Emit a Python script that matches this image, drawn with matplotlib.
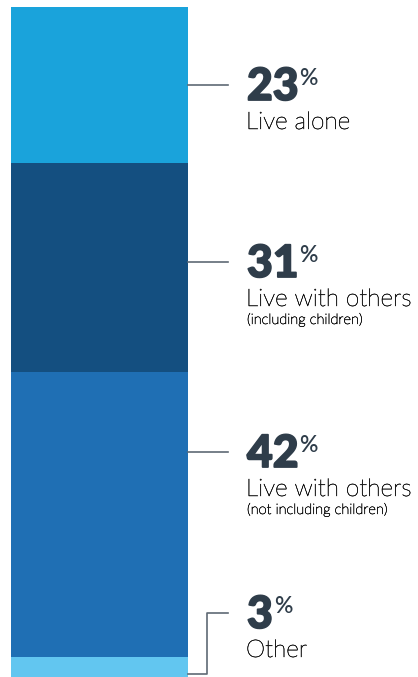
import matplotlib
matplotlib.use("Agg")
import matplotlib.pyplot as plt
from matplotlib.lines import Line2D
import matplotlib.patheffects as pe

# Household composition shares (percent), stacked top to bottom
shares = [23, 31, 42, 3]
labels = ["Live alone", "Live with others", "Live with others", "Other"]
notes = ["", "(including children)", "(not including children)", ""]
colors = ["#1aa3db", "#144f80", "#1f6fb4", "#62c6f0"]

W, H = 418, 677
fig = plt.figure(figsize=(W / 100, H / 100), dpi=100)
fig.patch.set_facecolor("white")

# Bar axes in pixel layout (left, top, right, bottom)
bx0, by0, bx1, by1 = 11, 7, 188, 677
ax = fig.add_axes([bx0 / W, 1 - by1 / H, (bx1 - bx0) / W, (by1 - by0) / H])
total = sum(shares)
bottom = 0
for v, c in zip(shares, colors):
    ax.bar(0.5, v, width=1.0, bottom=bottom, color=c, edgecolor="none")
    bottom += v
ax.set_xlim(0, 1)
ax.set_ylim(total, 0)
ax.axis("off")


def fx(x):
    return x / W


def fy(y):
    return 1 - y / H


line_col = "#5f6a74"
num_col = "#2f3d4a"
txt_col = "#1a1a1a"

# Leader y positions (pixels from top) and text x
leader_y = [85, 262, 452, 613]
text_x = 247
line_end = 228

heavy = [pe.withStroke(linewidth=1.3, foreground=num_col)]
firm = [pe.withStroke(linewidth=0.35, foreground=txt_col)]

for i, (v, lab, note) in enumerate(zip(shares, labels, notes)):
    ly = leader_y[i]
    if i < 3:
        fig.add_artist(Line2D([fx(bx1), fx(line_end)], [fy(ly), fy(ly)],
                              color=line_col, lw=1.2, transform=fig.transFigure))
    else:
        elbow_x, low_y = 207, 674
        fig.add_artist(Line2D([fx(bx1), fx(elbow_x), fx(elbow_x), fx(line_end)],
                              [fy(low_y), fy(low_y), fy(ly), fy(ly)],
                              color=line_col, lw=1.2, transform=fig.transFigure))
    base = ly + 15
    t = fig.text(fx(text_x), fy(base), f"{v}", fontsize=32, fontweight="black",
                 family="Lato", color=num_col, ha="left", va="baseline",
                 path_effects=heavy)
    fig.canvas.draw()
    bb = t.get_window_extent()
    fig.text(fx(bb.x1 + 1), fy(base - 15), "%", fontsize=16.5, fontweight="semibold",
             family="Lato", color=num_col, ha="left", va="baseline")
    fig.text(fx(text_x - 1), fy(base + 29), lab, fontsize=17.5, fontweight="light",
             family="Lato", color=txt_col, ha="left", va="baseline",
             path_effects=firm)
    if note:
        fig.text(fx(text_x), fy(base + 47), note, fontsize=10.5, fontweight="light",
                 family="Lato", color=txt_col, ha="left", va="baseline",
                 path_effects=firm)

fig.savefig("out.png", dpi=100, facecolor="white")
